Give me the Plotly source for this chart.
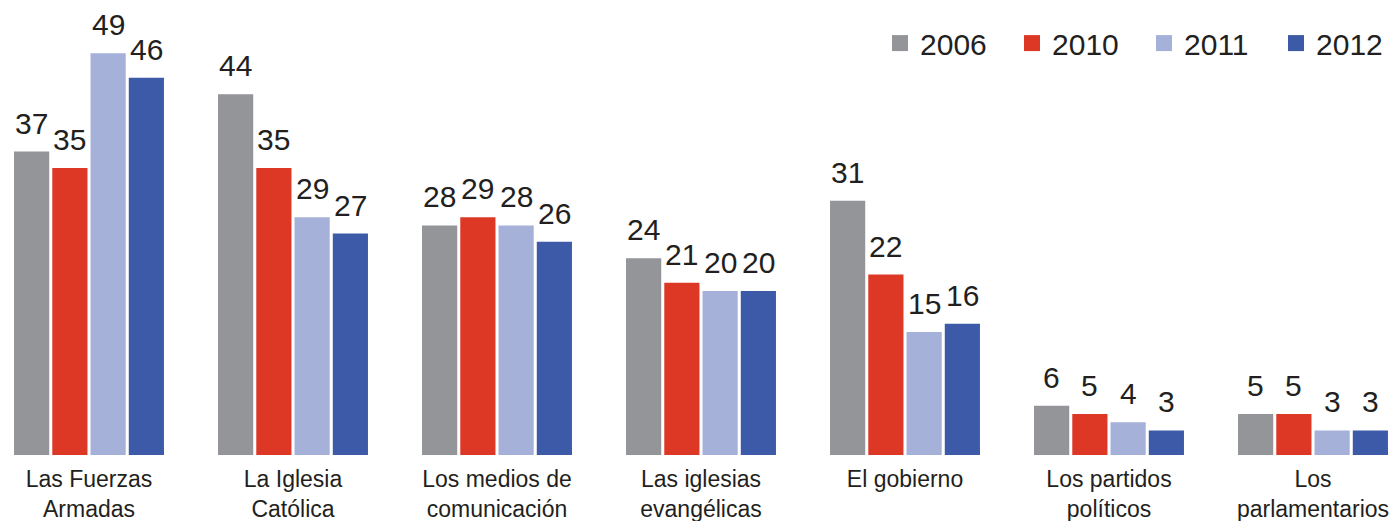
import plotly.graph_objects as go

categories = ["Las Fuerzas<br>Armadas", "La Iglesia<br>Católica", "Los medios de<br>comunicación",
              "Las iglesias<br>evangélicas", "El gobierno", "Los partidos<br>políticos",
              "Los<br>parlamentarios"]
years = ["2006", "2010", "2011", "2012"]
v2006 = [37, 44, 28, 24, 31, 6, 5]
v2010 = [35, 35, 29, 21, 22, 5, 5]
v2011 = [49, 29, 28, 20, 15, 4, 3]
v2012 = [46, 27, 26, 20, 16, 3, 3]
series = [v2006, v2010, v2011, v2012]
colors = ["#939598", "#dd3826", "#a5b1d9", "#3c5aa8"]

FONT = "Liberation Sans, Arial, sans-serif"
TXT = "#231f20"

W, H = 1391, 513
MB = 66
CAT_PX = 204.0
FIRST_CENTER = 81.0
BARGAP = 0.25
SLOT = CAT_PX * (1 - BARGAP) / len(series)

fig = go.Figure()
for i, (name, vals, col) in enumerate(zip(years, series, colors)):
    fig.add_trace(go.Bar(
        x=categories, y=vals, name=name, showlegend=False,
        marker=dict(color=col, line=dict(width=0)),
        hoverinfo="x+y+name",
    ))
    for cat, v in zip(categories, vals):
        fig.add_annotation(
            x=cat, y=v, xref="x", yref="y", text=str(v), showarrow=False,
            xanchor="center", yanchor="bottom",
            xshift=(i - (len(series) - 1) / 2) * SLOT, yshift=10,
            font=dict(size=30, color=TXT, family=FONT),
        )
for name, col in zip(years, colors):
    fig.add_trace(go.Scatter(
        x=[None], y=[None], mode="markers", name=name,
        marker=dict(symbol="square", size=16, color=col),
    ))

fig.update_layout(
    width=W, height=H,
    margin=dict(l=0, r=0, t=0, b=MB, autoexpand=False),
    paper_bgcolor="white", plot_bgcolor="white",
    barmode="group", bargap=BARGAP, bargroupgap=0.08,
    font=dict(family=FONT, color=TXT),
    showlegend=True,
    legend=dict(orientation="h", x=0.6269, xanchor="left", y=0.9215, yanchor="middle",
                font=dict(size=30, color=TXT, family=FONT), bgcolor="rgba(0,0,0,0)",
                itemwidth=30, entrywidth=87, tracegroupgap=0),
)
fig.update_xaxes(range=[-FIRST_CENTER / CAT_PX, (W - FIRST_CENTER) / CAT_PX], showgrid=False,
                 showline=False, ticks="", ticklabelstandoff=8,
                 tickfont=dict(size=23, color=TXT, family=FONT), fixedrange=True)
fig.update_yaxes(range=[0, (H - MB) / 8.2], visible=False, fixedrange=True)

fig.write_html("out.html")
